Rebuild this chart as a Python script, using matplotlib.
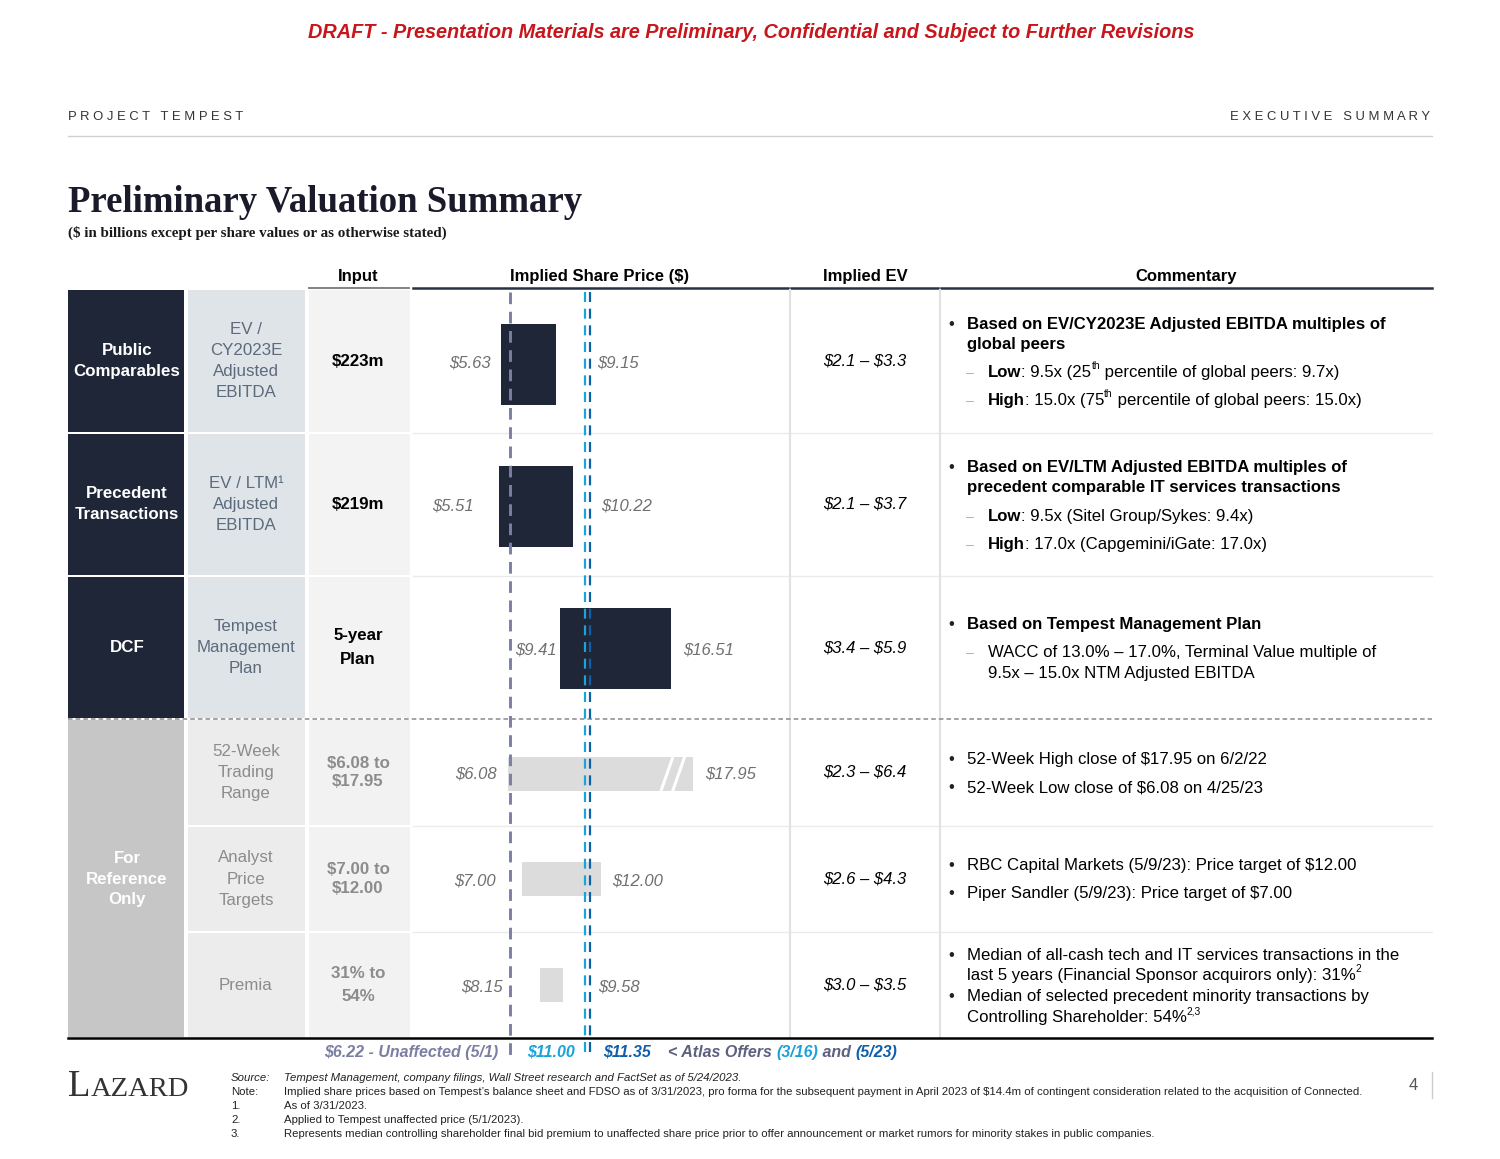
import matplotlib.pyplot as plt
from matplotlib.patches import Rectangle

plt.rcParams['font.family'] = ['Liberation Sans', 'DejaVu Sans']
plt.rcParams['text.parse_math'] = False

# implied share price ranges ($ per share)
groups = ['Public\nComparables', 'Precedent\nTransactions', 'DCF', 'For\nReference\nOnly']
metrics = ['EV /\nCY2023E\nAdjusted\nEBITDA', 'EV / LTM\u00b9\nAdjusted\nEBITDA', 'Tempest\nManagement\nPlan',
           '52-Week\nTrading\nRange', 'Analyst\nPrice\nTargets', 'Premia']
inputs = ['$223m', '$219m', '5-year\nPlan', '$6.08 to\n$17.95', '$7.00 to\n$12.00', '31% to\n54%']
low = [5.63, 5.51, 9.41, 6.08, 7.00, 8.15]
high = [9.15, 10.22, 16.51, 17.95, 12.00, 9.58]
implied_ev = ['$2.1 \u2013 $3.3', '$2.1 \u2013 $3.7', '$3.4 \u2013 $5.9',
              '$2.3 \u2013 $6.4', '$2.6 \u2013 $4.3', '$3.0 \u2013 $3.5']
unaffected = 6.22
offer_mar = 11.00
offer_may = 11.35

# colours
navy = '#1f2638'
slate = '#5b6b7b'
grey_txt = '#8c8c8c'
lbl_grey = '#707070'
unaff_c = '#7b7fa3'
lblue = '#1aa3d9'
dblue = '#0e5fa8'

# layout in pixels
row_top = [290, 434, 577, 720, 827, 933]
row_bot = [432, 575, 718, 825, 931, 1037]
bar_h = [81, 81, 81, 34, 34, 34]
bar_c = [364.5, 506, 648, 774, 879, 984.5]
low_gap = [10, 25, 3, 11, 27, 38]
high_gap = [41, 28, 12, 12, 12, 35]

fig = plt.figure(figsize=(15, 11.59), dpi=100)
ax = fig.add_axes([0, 0, 1, 1])
ax.set_xlim(0, 1500)
ax.set_ylim(1159, 0)
ax.axis('off')
r = fig.canvas.get_renderer()


def width(s, **kw):
    t = ax.text(0, 0, s + '|', **kw)
    w1 = t.get_window_extent(r).width
    t.set_text('|')
    w2 = t.get_window_extent(r).width
    t.remove()
    return w1 - w2


def seq(x, y, parts, size=12, color='black'):
    # draw text pieces one after another on the same baseline
    for s, st in parts:
        kw = dict(fontsize=size, color=color)
        dy = 0
        if isinstance(st, dict):
            kw.update(st)
            dy = kw.pop('dy', 0)
        elif st == 'b':
            kw['fontweight'] = 'bold'
        elif st == 'sup':
            kw['fontsize'] = size * 0.6
            dy = -8
        ax.text(x, y + dy, s, va='baseline', ha='left', **kw)
        x += width(s, **kw)
    return x


# top banner
ax.text(751, 33, 'DRAFT - Presentation Materials are Preliminary, Confidential and Subject to Further Revisions',
        ha='center', va='center', color='#c8161d', fontsize=14.3, fontweight='bold', style='italic')
ax.text(68, 117, 'P R O J E C T   T E M P E S T', ha='left', va='center', fontsize=9.4, color='#333333')
ax.text(1430, 117, 'E X E C U T I V E   S U M M A R Y', ha='right', va='center', fontsize=9.4, color='#333333')
ax.plot([68, 1432], [136, 136], color='#d0d0d0', lw=1)

ax.text(68, 203, 'Preliminary Valuation Summary', ha='left', va='center', fontsize=26.5,
        fontweight='bold', family=['Liberation Serif', 'DejaVu Serif'], color='#1a1a2a')
ax.text(68, 233, '($ in billions except per share values or as otherwise stated)', ha='left', va='center',
        fontsize=10.8, fontweight='bold', family=['Liberation Serif', 'DejaVu Serif'], color='#1a1a1a')

# column headers
for xc, lab in [(358, 'Input'), (600, 'Implied Share Price ($)'), (865, 'Implied EV'), (1186, 'Commentary')]:
    ax.text(xc, 276, lab, ha='center', va='center', fontsize=12, fontweight='bold')
ax.plot([309, 409], [288, 288], color='#777777', lw=1.3)
for x0, x1 in [(413, 788), (791, 938), (941, 1432)]:
    ax.plot([x0, x1], [288, 288], color='#2a3142', lw=1.8)

# left table cells
for i in range(3):
    h = row_bot[i] - row_top[i]
    ax.add_patch(Rectangle((68, row_top[i]), 116, h, color=navy, lw=0))
    ax.add_patch(Rectangle((188, row_top[i]), 117, h, color='#dfe4e8', lw=0))
    ax.add_patch(Rectangle((309, row_top[i]), 101, h, color='#f3f3f3', lw=0))
ax.add_patch(Rectangle((68, 720), 116, 317, color='#c6c6c6', lw=0))
for i in range(3, 6):
    h = row_bot[i] - row_top[i]
    ax.add_patch(Rectangle((188, row_top[i]), 117, h, color='#ececec', lw=0))
    ax.add_patch(Rectangle((309, row_top[i]), 101, h, color='#f2f2f2', lw=0))

group_y = [361, 504, 647, 879]
for g, yc in zip(groups, group_y):
    ax.text(127, yc, g, ha='center', va='center', color='white', fontsize=12.2,
            fontweight='bold', linespacing=1.42)
for i in range(6):
    yc = (row_top[i] + row_bot[i]) / 2
    ax.text(246, yc, metrics[i], ha='center', va='center', fontsize=12.2,
            color=slate if i < 3 else grey_txt, linespacing=1.52)
    ls = 1.72 if inputs[i] in ('5-year\nPlan', '31% to\n54%') else 1.33
    ax.text(358, yc, inputs[i], ha='center', va='center', fontsize=12.2, fontweight='bold',
            color='black' if i < 3 else grey_txt, linespacing=ls)
    ax.text(865, yc, implied_ev[i], ha='center', va='center', fontsize=12, style='italic')

# grid lines in the right part
for yb in [432, 575, 825, 931]:
    ax.plot([413, 1432], [yb + 1, yb + 1], color='#ebebeb', lw=1)
for xs in [789.5, 939.5]:
    ax.plot([xs, xs], [290, 1037], color='#e2e2e2', lw=1.5)
ax.plot([68, 1432], [718.5, 718.5], color='#8a8a8a', lw=1.1, ls=(0, (3, 2)))
ax.plot([68, 1432], [1038, 1038], color='black', lw=1.8)

# share price football field
bx = fig.add_axes([413 / 1500, 0, 375 / 1500, 1])
bx.set_xlim(0, 24)
bx.set_ylim(1159, 0)
bx.axis('off')
bx.patch.set_alpha(0)

for i in range(6):
    col = navy if i < 3 else '#dcdcdc'
    bx.barh(bar_c[i], high[i] - low[i], left=low[i], height=bar_h[i], color=col, lw=0, zorder=2)
    yc = (row_top[i] + row_bot[i]) / 2 + 2
    bx.annotate(f'${low[i]:.2f}', (low[i], yc), xytext=(-low_gap[i] * 0.72, 0), textcoords='offset points',
                ha='right', va='center', fontsize=12, style='italic', color=lbl_grey)
    bx.annotate(f'${high[i]:.2f}', (high[i], yc), xytext=(high_gap[i] * 0.72, 0), textcoords='offset points',
                ha='left', va='center', fontsize=12, style='italic', color=lbl_grey)

# axis break on the 52-week bar
for d in [1.7, 0.95]:
    xb = high[3] - d
    bx.plot([xb - 0.38, xb + 0.38], [bar_c[3] + 17, bar_c[3] - 17], color='white', lw=2.2, zorder=3)

bx.vlines(unaffected, 292, 1058, colors=unaff_c, lw=2.1, linestyles=[(0, (4, 2.6))], zorder=4)
bx.vlines(offer_mar, 292, 1058, colors=lblue, lw=1.6, linestyles=[(0, (4.5, 3))], zorder=4)
bx.vlines(offer_may, 292, 1058, colors=dblue, lw=1.6, linestyles=[(0, (4.5, 3))], zorder=4)

# legend line under the table
bi = dict(fontweight='bold', style='italic')
ax.text(498, 1057, f'${unaffected:.2f} - Unaffected (5/1)', ha='right', va='baseline', fontsize=11.5,
        color=unaff_c, **bi)
seq(527, 1057, [(f'${offer_mar:.2f}', dict(color=lblue, **bi))], size=11.5)
seq(603, 1057, [(f'${offer_may:.2f}', dict(color=dblue, **bi))], size=11.5)
seq(668, 1057, [('< Atlas Offers ', dict(color='#5d6180', **bi)), ('(3/16)', dict(color=lblue, **bi)),
                (' and ', dict(color='#5d6180', **bi)), ('(5/23)', dict(color=dblue, **bi))], size=11.5)

# commentary
comm = [
    ('bullet', 324, [('Based on EV/CY2023E Adjusted EBITDA multiples of', 'b')]),
    ('cont', 344, [('global peers', 'b')]),
    ('dash', 372, [('Low', 'b'), (': 9.5x (25', ''), ('th', 'sup'), (' percentile of global peers: 9.7x)', '')]),
    ('dash', 400, [('High', 'b'), (': 15.0x (75', ''), ('th', 'sup'), (' percentile of global peers: 15.0x)', '')]),
    ('bullet', 467, [('Based on EV/LTM Adjusted EBITDA multiples of', 'b')]),
    ('cont', 487, [('precedent comparable IT services transactions', 'b')]),
    ('dash', 516, [('Low', 'b'), (': 9.5x (Sitel Group/Sykes: 9.4x)', '')]),
    ('dash', 544, [('High', 'b'), (': 17.0x (Capgemini/iGate: 17.0x)', '')]),
    ('bullet', 624, [('Based on Tempest Management Plan', 'b')]),
    ('dash', 652, [('WACC of 13.0% \u2013 17.0%, Terminal Value multiple of', '')]),
    ('subcont', 673, [('9.5x \u2013 15.0x NTM Adjusted EBITDA', '')]),
    ('bullet', 759, [('52-Week High close of $17.95 on 6/2/22', '')]),
    ('bullet', 787, [('52-Week Low close of $6.08 on 4/25/23', '')]),
    ('bullet', 865, [('RBC Capital Markets (5/9/23): Price target of $12.00', '')]),
    ('bullet', 893, [('Piper Sandler (5/9/23): Price target of $7.00', '')]),
    ('bullet', 955, [('Median of all-cash tech and IT services transactions in the', '')]),
    ('cont', 975, [('last 5 years (Financial Sponsor acquirors only): 31%', ''), ('2', 'sup')]),
    ('bullet', 996, [('Median of selected precedent minority transactions by', '')]),
    ('cont', 1017, [('Controlling Shareholder: 54%', ''), ('2,3', 'sup')]),
]
for kind, y, parts in comm:
    yb = y + 5
    if kind == 'bullet':
        ax.text(951, yb, '\u2022', ha='center', va='baseline', fontsize=12, color='#222222')
    if kind == 'dash':
        ax.text(970, yb, '\u2013', ha='center', va='baseline', fontsize=10, color='#b0b0b0')
    x0 = 967 if kind in ('bullet', 'cont') else 988
    seq(x0, yb, parts, size=12.1)

# footer
seq(68, 1096, [('L', dict(fontsize=26.5, family=['Liberation Serif'])),
               ('AZARD', dict(fontsize=20.5, family=['Liberation Serif']))], color='#333333')
notes = [('Source:', 'Tempest Management, company filings, Wall Street research and FactSet as of 5/24/2023.'),
         ('Note:', 'Implied share prices based on Tempest\u2019s balance sheet and FDSO as of 3/31/2023, pro forma for the '
                   'subsequent payment in April 2023 of $14.4m of contingent consideration related to the acquisition of Connected.'),
         ('1.', 'As of 3/31/2023.'),
         ('2.', 'Applied to Tempest unaffected price (5/1/2023).'),
         ('3.', 'Represents median controlling shareholder final bid premium to unaffected share price prior to offer '
                'announcement or market rumors for minority stakes in public companies.')]
for k, (lab, txt) in enumerate(notes):
    yy = 1078 + k * 14
    st = 'italic' if k == 0 else 'normal'
    ax.text(231, yy, lab, ha='left', va='center', fontsize=8.2, style=st, color='#222222')
    ax.text(284, yy, txt, ha='left', va='center', fontsize=8.2, style=st, color='#222222')
ax.text(1413, 1085, '4', ha='center', va='center', fontsize=12, color='#555555')
ax.plot([1432, 1432], [1072, 1098], color='#cccccc', lw=1)

fig.savefig('out.png', dpi=100)
